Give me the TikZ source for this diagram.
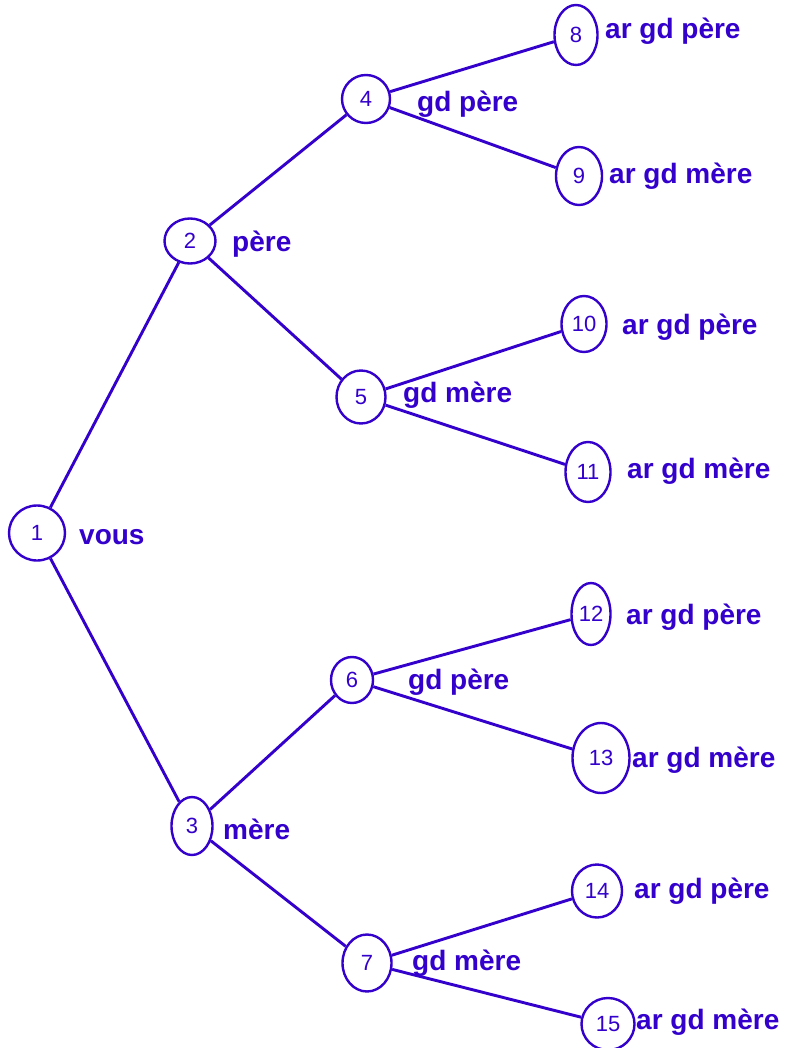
\documentclass[tikz,border=0pt]{standalone}
\usepackage{fontspec}
\setmainfont{Liberation Sans}
\usetikzlibrary{shapes.geometric}
\definecolor{ink}{RGB}{51,0,204}
\tikzset{
  pers/.style={draw=ink, line width=2.4pt, ellipse, inner sep=0pt, text=ink,
    font=\fontsize{22}{24}\selectfont},
  lbl/.style={anchor=base west, inner sep=0pt, text=ink,
    font=\fontsize{28}{32}\selectfont\bfseries},
  link/.style={draw=ink, line width=2.9pt}
}
\begin{document}
\begin{tikzpicture}[x=1pt,y=-1pt]
\useasboundingbox[fill=white] (0,0) rectangle (786,1048);
% persons
\node[pers, minimum width=56, minimum height=55] (n1) at (37,533) {1};
\node[pers, minimum width=51, minimum height=45] (n2) at (190,241) {2};
\node[pers, minimum width=41, minimum height=58] (n3) at (192,826) {3};
\node[pers, minimum width=48, minimum height=48] (n4) at (366,99) {4};
\node[pers, minimum width=49, minimum height=53] (n5) at (361,397) {5};
\node[pers, minimum width=42, minimum height=46] (n6) at (352,680) {6};
\node[pers, minimum width=49, minimum height=57] (n7) at (367,963) {7};
\node[pers, minimum width=43, minimum height=60] (n8) at (576,35) {8};
\node[pers, minimum width=46, minimum height=58] (n9) at (579,176) {9};
\node[pers, minimum width=45, minimum height=56] (n10) at (584,324) {10};
\node[pers, minimum width=45, minimum height=60] (n11) at (588,472) {11};
\node[pers, minimum width=39, minimum height=62] (n12) at (591,614) {12};
\node[pers, minimum width=57, minimum height=70] (n13) at (601,758) {13};
\node[pers, minimum width=50, minimum height=53] (n14) at (597,891) {14};
\node[pers, minimum width=53, minimum height=52] (n15) at (608,1024) {15};
% labels
\node[lbl] (l1) at (79,544) {vous};
\node[lbl] (l2) at (232,252) {père};
\node[lbl] (l3) at (223,839) {mère};
\node[lbl] (l4) at (417,112) {gd père};
\node[lbl] (l5) at (403,402) {gd mère};
\node[lbl] (l6) at (408,689) {gd père};
\node[lbl] (l7) at (412,970) {gd mère};
\node[lbl] (l8) at (605,39) {ar gd père};
\node[lbl] (l9) at (609,184) {ar gd mère};
\node[lbl] (l10) at (622,334) {ar gd père};
\node[lbl] (l11) at (627,478) {ar gd mère};
\node[lbl] (l12) at (626,624) {ar gd père};
\node[lbl] (l13) at (632,767) {ar gd mère};
\node[lbl] (l14) at (634,898) {ar gd père};
\node[lbl] (l15) at (636,1029) {ar gd mère};
% links
\draw[link] (n1) -- (n2);
\draw[link] (n1) -- (n3);
\draw[link] (n2) -- (n4);
\draw[link] (n2) -- (n5);
\draw[link] (n3) -- (n6);
\draw[link] (n3) -- (n7);
\draw[link] (n4) -- (n8);
\draw[link] (n4) -- (n9);
\draw[link] (n5) -- (n10);
\draw[link] (n5) -- (n11);
\draw[link] (n6) -- (n12);
\draw[link] (n6) -- (n13);
\draw[link] (n7) -- (n14);
\draw[link] (n7) -- (n15);
\end{tikzpicture}
\end{document}
